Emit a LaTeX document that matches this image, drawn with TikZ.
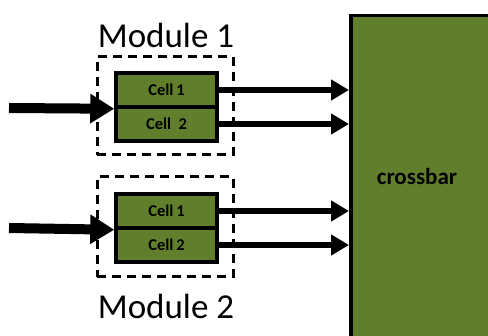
\documentclass[tikz,border=0pt]{standalone}
\usepackage{fontspec}
\setmainfont{Carlito}
\usetikzlibrary{arrows.meta}
\definecolor{olive}{RGB}{96,126,44}
\tikzset{
  cellbox/.style={draw=black, line width=3.5pt, fill=olive, minimum width=101pt, minimum height=34pt, inner sep=0pt, font=\fontsize{16.5}{16.5}\selectfont\bfseries},
  modbox/.style={draw=black, line width=3pt, dash pattern=on 9pt off 6pt},
  modlabel/.style={font=\fontsize{35}{35}\selectfont},
  inarrow/.style={line width=10pt, -{Triangle[length=24pt, width=28pt]}},
  outarrow/.style={line width=6pt, -{Triangle[length=18pt, width=20pt]}},
}
\begin{document}
\begin{tikzpicture}[x=1pt, y=-1pt]
\useasboundingbox (0,0) rectangle (488,336);
\clip (0,0) rectangle (488,336);
% crossbar
\node[draw=black, line width=3.5pt, fill=olive, minimum width=144pt, minimum height=330pt, inner sep=0pt, anchor=north west] (crossbar) at (349,14) {};
\node[font=\fontsize{23}{23}\selectfont\bfseries] (cbtext) at (417,177) {crossbar};
% module 1
\node[modbox, minimum width=136pt, minimum height=98pt, inner sep=0pt] (mod1) at (165,106) {};
\node[cellbox] (c11) at (166.5,90) {Cell\,1};
\node[cellbox] (c12) at (166.5,124) {Cell\;\,2};
\node[modlabel] (m1label) at (166,35) {Module 1};
% module 2
\node[modbox, minimum width=136pt, minimum height=100pt, inner sep=0pt] (mod2) at (165,227) {};
\node[cellbox] (c21) at (166.5,211) {Cell\,1};
\node[cellbox] (c22) at (166.5,245) {Cell\,2};
\node[modlabel] (m2label) at (166,306) {Module 2};
% input arrows
\coordinate (in1) at (9,108);
\coordinate (in2) at (9,228);
\draw[inarrow] (in1) -- (c11.south west);
\draw[inarrow] (in2) -- (c21.south west);
% output arrows
\draw[outarrow] (c11.east) -- (c11.east -| crossbar.west);
\draw[outarrow] (c12.east) -- (c12.east -| crossbar.west);
\draw[outarrow] (c21.east) -- (c21.east -| crossbar.west);
\draw[outarrow] (c22.east) -- (c22.east -| crossbar.west);
\end{tikzpicture}
\end{document}
